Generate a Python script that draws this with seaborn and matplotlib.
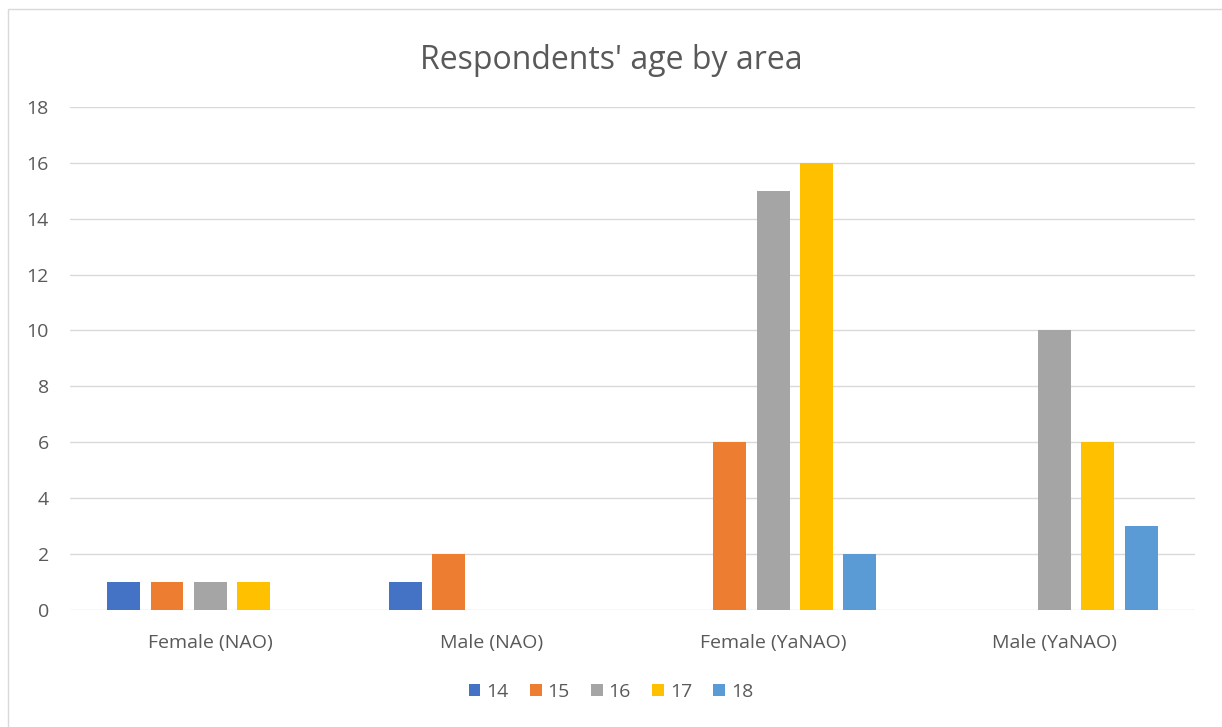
import matplotlib.pyplot as plt
import matplotlib.patches as mpatches
import pandas as pd
import seaborn as sns

# Dati
aree = ["Female (NAO)", "Male (NAO)", "Female (YaNAO)", "Male (YaNAO)"]
eta = ["14", "15", "16", "17", "18"]
valori_14 = [1, 1, 0, 0]
valori_15 = [1, 2, 6, 0]
valori_16 = [1, 0, 15, 10]
valori_17 = [1, 0, 16, 6]
valori_18 = [0, 0, 2, 3]
colori = ["#4472C4", "#ED7D31", "#A5A5A5", "#FFC000", "#5B9BD5"]

righe = []
for e, serie in zip(eta, [valori_14, valori_15, valori_16, valori_17, valori_18]):
    for a, v in zip(aree, serie):
        righe.append({"Area": a, "Eta": e, "Conteggio": v})
df = pd.DataFrame(righe)

sns.set_theme(style="white")
plt.rcParams["font.family"] = ["Open Sans", "DejaVu Sans"]

fig = plt.figure(figsize=(12.22, 7.27), dpi=100)
ax = fig.add_axes([0.057, 0.161, 0.921, 0.692])

sns.barplot(
    data=df, x="Area", y="Conteggio", hue="Eta",
    order=aree, hue_order=eta, palette=colori,
    width=0.77, gap=0.24, saturation=1, linewidth=0, ax=ax, legend=True
)

ax.set_ylim(0, 18)
ax.set_yticks(range(0, 19, 2))
ax.set_xlim(-0.5, 3.5)
ax.yaxis.grid(True, color="#D9D9D9", linewidth=1)
ax.set_axisbelow(True)
for s in ax.spines.values():
    s.set_visible(False)
ax.set_xlabel("")
ax.set_ylabel("")
ax.tick_params(axis="both", length=0, labelsize=14, labelcolor="#595959")
ax.tick_params(axis="y", pad=15)
ax.tick_params(axis="x", pad=17)

fig.suptitle("Respondents' age by area", x=0.5, y=0.94, fontsize=23, color="#595959")

leg = ax.legend(
    loc="center", bbox_to_anchor=(0.5, 0.048), bbox_transform=fig.transFigure,
    ncol=5, frameon=False, fontsize=14, handlelength=0.6, handleheight=0.6,
    handletextpad=0.3, columnspacing=1.1
)
for t in leg.get_texts():
    t.set_color("#595959")

# Bordo dell'area del grafico
fig.patches.append(mpatches.Rectangle(
    (8 / 1222, -0.01), 1.02, 1 - 9 / 727 + 0.01, transform=fig.transFigure,
    fill=False, edgecolor="#D9D9D9", linewidth=1
))

fig.savefig("out.png", dpi=100)
